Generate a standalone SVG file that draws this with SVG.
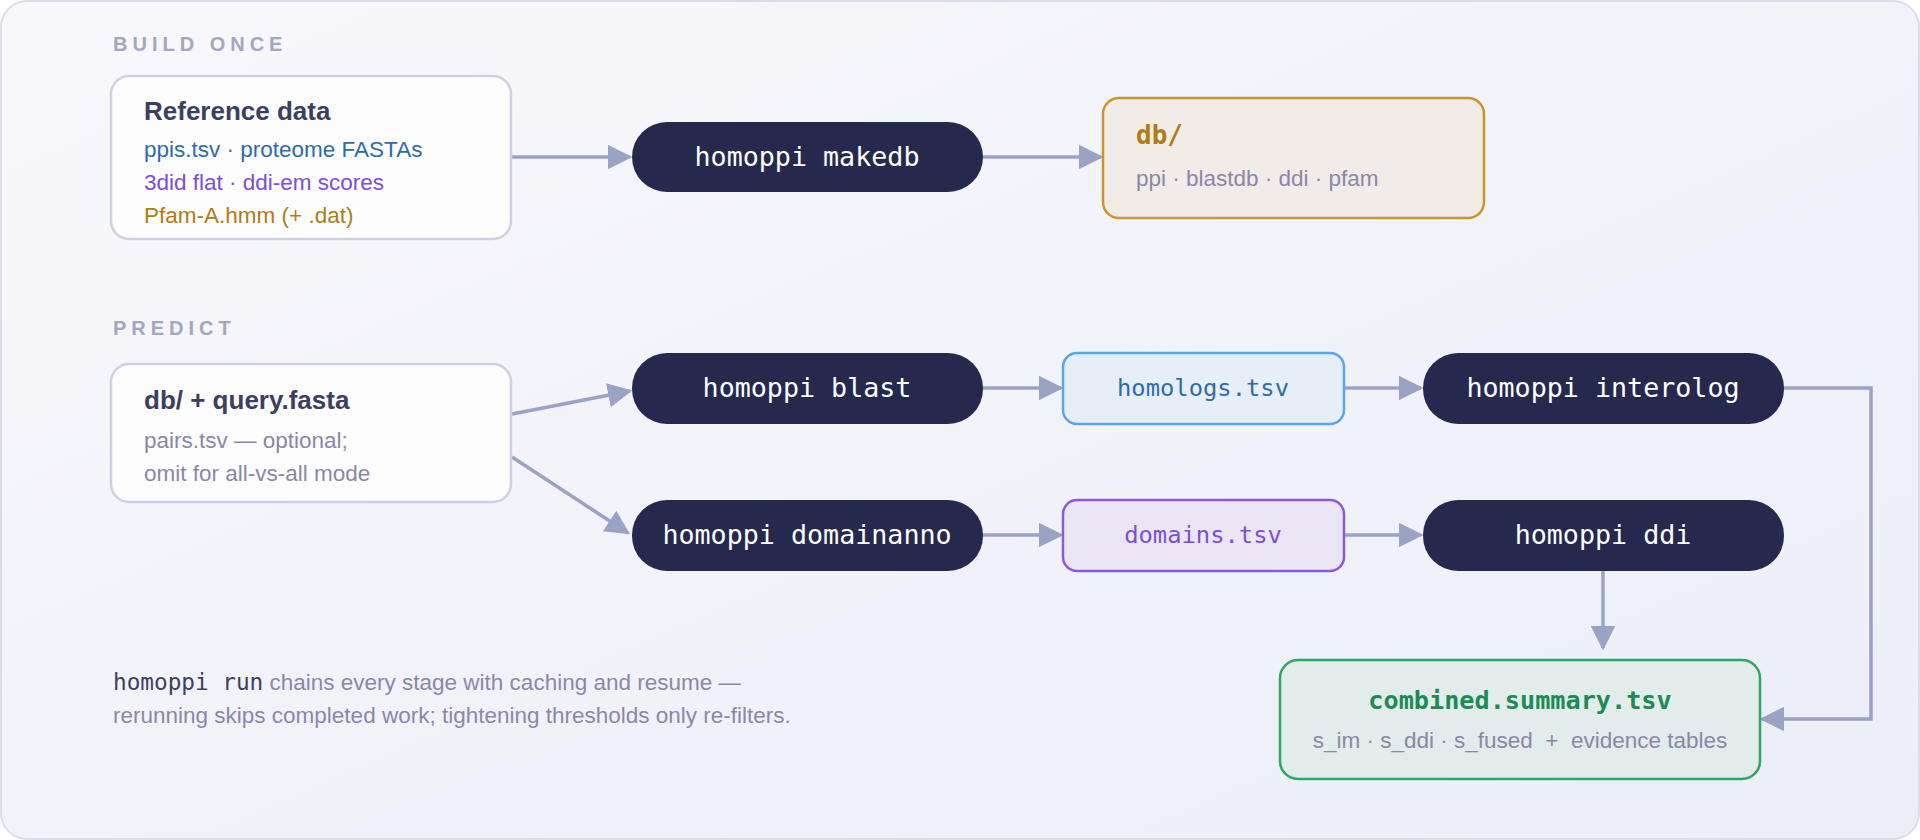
<svg xmlns="http://www.w3.org/2000/svg" width="1920" height="840" viewBox="0 0 1920 840">
<defs>
<linearGradient id="bg" x1="0" y1="0" x2="1" y2="1"><stop offset="0" stop-color="#f8f8fc"/><stop offset="1" stop-color="#eceef7"/></linearGradient>
<marker id="ah" viewBox="0 0 10 10" refX="9" refY="5" markerWidth="7" markerHeight="7" orient="auto-start-reverse" markerUnits="strokeWidth"><path d="M0,0 L10,5 L0,10 z" fill="#9aa3c4"/></marker>
<style>
.lbl{font-family:"Liberation Sans",Arial,sans-serif;font-weight:700;font-size:20px;letter-spacing:5px;fill:#a3a6c0}
.card{fill:#fdfdfe;stroke:#cfd1e3;stroke-width:2.5}
.ttl{font-family:"Liberation Sans",Arial,sans-serif;font-weight:700;font-size:26px;fill:#3b4060}
.ln{font-family:"Liberation Sans",Arial,sans-serif;font-size:22.5px}
.pill{fill:#24294d}
.pt{font-family:"DejaVu Sans Mono",monospace;font-size:26.7px;fill:#ffffff;text-anchor:middle}
.ft{font-family:"DejaVu Sans Mono",monospace;font-size:23.8px;text-anchor:middle}
.gray{fill:#8a88a8}
.con{fill:none;stroke:#9aa3c4;stroke-width:3.5;marker-end:url(#ah)}
</style>
</defs>
<rect x="1" y="1" width="1918" height="838" rx="26" fill="url(#bg)" stroke="#dcdde9" stroke-width="2"/>
<text class="lbl" x="113" y="51">BUILD ONCE</text>
<text class="lbl" x="113" y="335">PREDICT</text>
<g id="connectors">
<path class="con" d="M512,157 H630"/>
<path class="con" d="M983,157 H1101"/>
<path class="con" d="M512,414 L630,391"/>
<path class="con" d="M512,457 L628,533"/>
<path class="con" d="M983,388 H1061"/>
<path class="con" d="M1344,388 H1421"/>
<path class="con" d="M983,535 H1061"/>
<path class="con" d="M1344,535 H1421"/>
<path class="con" d="M1603,571 V648"/>
<path class="con" d="M1784,388 H1871 V719 H1762"/>
</g>
<g id="refdata">
<rect class="card" x="111" y="76" width="400" height="163" rx="18"/>
<text class="ttl" x="144" y="120">Reference data</text>
<text class="ln" x="144" y="157" fill="#2e6da4">ppis.tsv · proteome FASTAs</text>
<text class="ln" x="144" y="190" fill="#7b4fd6">3did flat · ddi-em scores</text>
<text class="ln" x="144" y="223" fill="#b07d13">Pfam-A.hmm (+ .dat)</text>
</g>
<g id="makedb"><rect class="pill" x="632" y="122" width="351" height="70" rx="35"/><text class="pt" x="807" y="166">homoppi makedb</text></g>
<g id="db">
<rect x="1103" y="98" width="381" height="120" rx="16" fill="#f1ece8" stroke="#c8952e" stroke-width="2.5"/>
<text x="1136" y="144" font-family="DejaVu Sans Mono,monospace" font-weight="700" font-size="26" fill="#b07d13">db/</text>
<text class="ln gray" x="1136" y="186" font-size="22">ppi · blastdb · ddi · pfam</text>
</g>
<g id="query">
<rect class="card" x="111" y="364" width="400" height="138" rx="18"/>
<text class="ttl" x="144" y="409">db/ + query.fasta</text>
<text class="ln gray" x="144" y="448">pairs.tsv — optional;</text>
<text class="ln gray" x="144" y="481">omit for all-vs-all mode</text>
</g>
<g id="blast"><rect class="pill" x="632" y="353" width="351" height="71" rx="35"/><text class="pt" x="807" y="397">homoppi blast</text></g>
<g id="domainanno"><rect class="pill" x="632" y="500" width="351" height="71" rx="35"/><text class="pt" x="807" y="544">homoppi domainanno</text></g>
<g id="homologs"><rect x="1063" y="353" width="281" height="71" rx="14" fill="#e6eef8" stroke="#5aa6e8" stroke-width="2.5"/><text class="ft" x="1203" y="396" fill="#2e6da4">homologs.tsv</text></g>
<g id="domains"><rect x="1063" y="500" width="281" height="71" rx="14" fill="#ebe6f5" stroke="#8a5bd6" stroke-width="2.5"/><text class="ft" x="1203" y="543" fill="#7b4fd6">domains.tsv</text></g>
<g id="interolog"><rect class="pill" x="1423" y="353" width="361" height="71" rx="35"/><text class="pt" x="1603" y="397">homoppi interolog</text></g>
<g id="ddi"><rect class="pill" x="1423" y="500" width="361" height="71" rx="35"/><text class="pt" x="1603" y="544">homoppi ddi</text></g>
<g id="combined">
<rect x="1280" y="660" width="480" height="119" rx="18" fill="#e2ecea" stroke="#2fa56a" stroke-width="2.5"/>
<text x="1520" y="709" text-anchor="middle" font-family="DejaVu Sans Mono,monospace" font-weight="700" font-size="25.2" fill="#1e8a55">combined.summary.tsv</text>
<text class="ln gray" x="1520" y="748" text-anchor="middle" font-size="22" xml:space="preserve">s_im · s_ddi · s_fused  +  evidence tables</text>
</g>
<text x="113" y="690" class="ln gray"><tspan font-family="DejaVu Sans Mono,monospace" font-size="22.7" fill="#3b4060">homoppi run</tspan> chains every stage with caching and resume —</text>
<text x="113" y="723" class="ln gray" font-size="23.2">rerunning skips completed work; tightening thresholds only re-filters.</text>
</svg>
